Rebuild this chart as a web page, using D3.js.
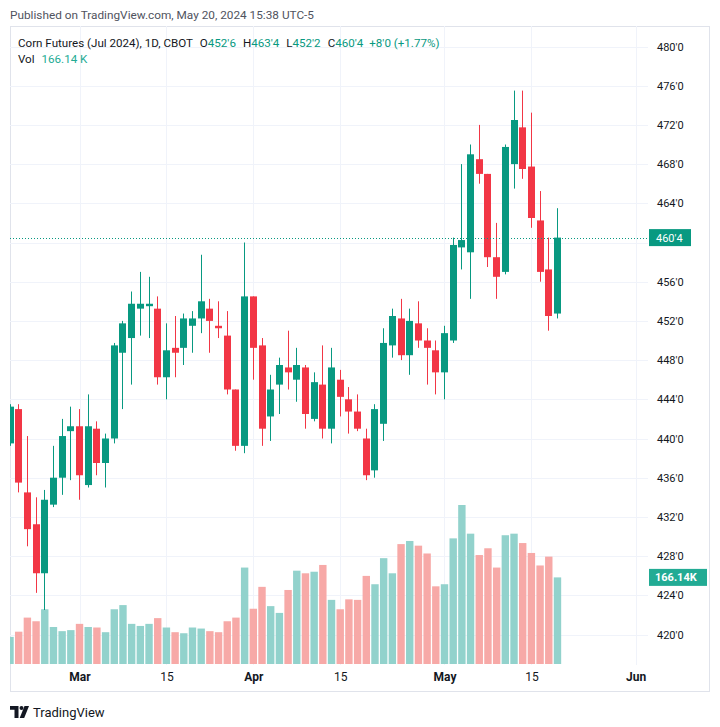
<!DOCTYPE html>
<html>
<head>
<meta charset="utf-8">
<script src="https://cdn.jsdelivr.net/npm/d3@7"></script>
<style>
  body { margin: 0; background: #fff; }
  svg { display: block; font-family: Roboto, "Noto Sans", sans-serif; }
</style>
</head>
<body>
<svg id="chart"></svg>
<script>
// daily sessions shown, Feb 20 -> May 20 2024
var dates = [
  "2024-02-20","2024-02-21","2024-02-22","2024-02-23","2024-02-26","2024-02-27","2024-02-28","2024-02-29",
  "2024-03-01","2024-03-04","2024-03-05","2024-03-06","2024-03-07","2024-03-08","2024-03-11","2024-03-12",
  "2024-03-13","2024-03-14","2024-03-15","2024-03-18","2024-03-19","2024-03-20","2024-03-21","2024-03-22",
  "2024-03-25","2024-03-26","2024-03-27","2024-03-28","2024-04-01","2024-04-02","2024-04-03","2024-04-04",
  "2024-04-05","2024-04-08","2024-04-09","2024-04-10","2024-04-11","2024-04-12","2024-04-15","2024-04-16",
  "2024-04-17","2024-04-18","2024-04-19","2024-04-22","2024-04-23","2024-04-24","2024-04-25","2024-04-26",
  "2024-04-29","2024-04-30","2024-05-01","2024-05-02","2024-05-03","2024-05-06","2024-05-07","2024-05-08",
  "2024-05-09","2024-05-10","2024-05-13","2024-05-14","2024-05-15","2024-05-16","2024-05-17","2024-05-20"
];
var open = [439.5,443,434.5,431.25,426.25,433.25,436,440.75, 441.25,435.25,441,437.5,440,448.75,450.25,453.25,
  453.5,453.25,446.25,449.25,449.25,451.5,452.25,453.25, 451.5,450.5,445,439.25,454.5,449.5,442.25,445.5,
  447.25,446,447.25,442,445.5,441,446,444, 442.75,440,436.75,441.5,449.5,452.25,448.5,451.75,
  450,449,446.75,450,459.5,459,468.5,467, 458.5,457,468,471.75,467.75,462.25,457.25,452.75];
var high = [443.5,443.5,440.25,434,434.75,439.25,442,443.25, 443,444.5,441.75,440.5,449.75,452,455,457,
  456.5,454.5,451.75,452.5,452.75,453,458.75,454.25, 454,453,445,460,454.5,450.25,446.5,448.25,
  451,449.25,447.5,446.75,449.5,449.25,447,445.25, 444.5,441,443.5,451.25,453.25,454.25,453.25,454,
  451.25,450,451.5,460.5,468,470,472,467, 462,470,475.5,475.5,473.25,465.25,460.5,463.5];
var low = [439.25,434.5,429,424.25,422.5,433,434.25,435.75, 433.75,435,436.25,435,439.5,443,445.5,450.5,
  450.25,445.5,444,446.25,447.5,448.75,450.75,448.75, 450.25,444.5,438.75,438.5,446,439.25,439.75,442.5,
  445,443.75,441,441.75,440,439.5,442.25,440.5, 440.75,435.75,436,439.75,448.25,448,446.5,449.25,
  445.5,444.5,444,449.75,457.25,454.25,466,457.5, 454.25,456.75,465.5,466.5,461.5,456,451,452.25];
var close = [443.25,435.5,430.75,426.25,433.75,436,440.25,441.25, 436.25,441.25,437.5,440,449.5,451.75,453.75,453.75,
  453.75,446.25,449,448.75,452.25,452.25,454,452, 451.25,445,439.25,454.5,449.25,441,445,447.5,
  446.75,447.5,442.5,445.75,441,447.25,444.25,442.75, 441,436.25,443,449.75,452.5,448.5,452,450,
  449.25,446.75,450.75,459.75,460.25,469,467,458.5, 456.5,469.75,472.5,467.5,462.5,457,452.5,460.5];
// volume, thousands of contracts
var volume = [52,62,89,82,105,71,63,65, 77,71,70,61,105,113,77,73,
  77,88,70,61,59,70,68,63, 61,82,89,185,106,148,111,98,
  142,179,174,177,190,123,105,124, 123,169,153,203,174,230,236,227,
  212,149,153,241,305,250,209,222, 185,247,250,232,213,189,206,166.14];

var priceTicks = d3.range(420, 481, 4);
var timeTickBars = [8, 18, 28, 38, 50, 60, 72];   // Jun 3 is 9 sessions past the last bar
var timeTickLabels = ["Mar", "15", "Apr", "15", "May", "15", "Jun"];
var timeTickMonth = [true, false, true, false, true, false, true];

var upColor = "#089981", downColor = "#f23645";
var upVol = "#92d2cc", downVol = "#f7a9a7";

var W = 720, H = 727;
var plot = { left: 10, right: 648, top: 26, bottom: 665 };

var svg = d3.select("#chart").attr("width", W).attr("height", H);

// eighths formatting used by grain futures: 452.75 -> 452'6
function fmt(p) {
  var n = Math.floor(p + 1e-9);
  var f = Math.round((p - n) * 8);
  if (f == 8) { n++; f = 0; }
  return n + "'" + f;
}

var x = d3.scaleLinear().domain([0, 72]).range([10, 10 + 72 * 8.69]);
var y = d3.scaleLinear().domain([420, 480]).range([634.5, 46.5]);
var yv = d3.scaleLinear().domain([0, d3.max(volume)]).range([664, 505]);

var bars = dates.map(function(d, i) {
  return { i: i, date: d, o: open[i], h: high[i], l: low[i], c: close[i], v: volume[i], up: close[i] >= open[i] };
});
var last = bars[bars.length - 1], prev = bars[bars.length - 2];

svg.append("defs").append("clipPath").attr("id", "plotclip")
  .append("rect")
    .attr("x", plot.left).attr("y", plot.top)
    .attr("width", plot.right - plot.left).attr("height", plot.bottom - plot.top);

// header
svg.append("text")
  .attr("x", 10).attr("y", 19)
  .attr("font-size", 11.8).attr("fill", "#50535e")
  .text("Published on TradingView.com, May 20, 2024 15:38 UTC-5");

// frame
svg.append("rect")
  .attr("x", 10.5).attr("y", 26.5).attr("width", 699).attr("height", 665)
  .attr("fill", "none").attr("stroke", "#e0e3eb");

// grid
var grid = svg.append("g").attr("class", "grid");
grid.selectAll("line.h")
  .data(priceTicks)
  .enter().append("line")
    .attr("class", "h")
    .attr("x1", plot.left).attr("x2", plot.right)
    .attr("y1", function(d) { return Math.round(y(d)) + 0.5; })
    .attr("y2", function(d) { return Math.round(y(d)) + 0.5; })
    .attr("stroke", "#f0f3fa");
grid.selectAll("line.v")
  .data(timeTickBars)
  .enter().append("line")
    .attr("class", "v")
    .attr("y1", plot.top).attr("y2", plot.bottom)
    .attr("x1", function(d) { return Math.round(x(d)) + 0.5; })
    .attr("x2", function(d) { return Math.round(x(d)) + 0.5; })
    .attr("stroke", "#f0f3fa");

var g = svg.append("g").attr("clip-path", "url(#plotclip)");

// volume
g.append("g").selectAll("rect")
  .data(bars)
  .enter().append("rect")
    .attr("x", function(d) { return x(d.i) - 3.7; })
    .attr("width", 7.4)
    .attr("y", function(d) { return yv(d.v); })
    .attr("height", function(d) { return yv(0) - yv(d.v); })
    .attr("fill", function(d) { return d.up ? upVol : downVol; });

// candles
var candle = g.append("g").selectAll("g")
  .data(bars)
  .enter().append("g");

candle.append("line")
  .attr("x1", function(d) { return Math.round(x(d.i) - 3.5) + 3.5; })
  .attr("x2", function(d) { return Math.round(x(d.i) - 3.5) + 3.5; })
  .attr("y1", function(d) { return y(d.h); })
  .attr("y2", function(d) { return y(d.l); })
  .attr("stroke", function(d) { return d.up ? upColor : downColor; })
  .attr("stroke-width", 1);

candle.append("rect")
  .attr("x", function(d) { return Math.round(x(d.i) - 3.5); })
  .attr("width", 7)
  .attr("y", function(d) { return y(Math.max(d.o, d.c)); })
  .attr("height", function(d) { return Math.max(1, Math.abs(y(d.o) - y(d.c))); })
  .attr("fill", function(d) { return d.up ? upColor : downColor; });

// last price line
svg.append("line")
  .attr("x1", plot.left).attr("x2", plot.right)
  .attr("y1", Math.round(y(last.c)) + 0.5).attr("y2", Math.round(y(last.c)) + 0.5)
  .attr("stroke", upColor).attr("stroke-dasharray", "1,2");

// price axis (the tick hidden under the last-price badge is dropped, as on the chart)
var yAxis = d3.axisRight(y)
  .tickValues(priceTicks.filter(function(t) { return Math.abs(y(t) - y(last.c)) > 10; }))
  .tickSize(0).tickPadding(0).tickFormat(fmt);
var ya = svg.append("g")
  .attr("transform", "translate(657,0)")
  .call(yAxis);
ya.select(".domain").remove();
ya.selectAll("text").attr("font-size", 11).attr("fill", "#131722").attr("font-family", "Roboto, sans-serif");

// time axis
var xAxis = d3.axisBottom(x).tickValues(timeTickBars).tickSize(0).tickPadding(0)
  .tickFormat(function(d, i) { return timeTickLabels[i]; });
var xa = svg.append("g")
  .attr("transform", "translate(0,672)")
  .call(xAxis);
xa.select(".domain").remove();
xa.selectAll("text")
  .attr("font-size", 12).attr("fill", "#131722").attr("font-family", "Roboto, sans-serif")
  .attr("font-weight", function(d, i) { return timeTickMonth[i] ? 700 : 400; });

// last price / volume badges
svg.append("rect")
  .attr("x", 649).attr("y", y(last.c) - 8.5).attr("width", 42).attr("height", 17)
  .attr("fill", upColor);
svg.append("text")
  .attr("x", 656).attr("y", y(last.c) + 4)
  .attr("font-size", 11).attr("fill", "#fff")
  .text(fmt(last.c));

svg.append("rect")
  .attr("x", 649).attr("y", yv(last.v) - 8.5).attr("width", 58).attr("height", 17)
  .attr("fill", "#22ab94");
svg.append("text")
  .attr("x", 655).attr("y", yv(last.v) + 4)
  .attr("font-size", 11).attr("font-weight", 700).attr("fill", "#fff")
  .text(d3.format(".2f")(last.v) + "K");

// legend
var chg = last.c - prev.c;
var legend = svg.append("text")
  .attr("x", 18).attr("y", 47)
  .attr("font-size", 11.6).attr("fill", "#131722");
legend.append("tspan").text("Corn Futures (Jul 2024), 1D, CBOT");
[["O", last.o], ["H", last.h], ["L", last.l], ["C", last.c]].forEach(function(p) {
  legend.append("tspan").attr("dx", 7).text(p[0]);
  legend.append("tspan").attr("fill", upColor).text(fmt(p[1]));
});
legend.append("tspan").attr("dx", 6).attr("fill", upColor)
  .text((chg >= 0 ? "+" : "") + fmt(chg) + " (" + (chg >= 0 ? "+" : "") + d3.format(".2f")(chg / prev.c * 100) + "%)");

var vol = svg.append("text")
  .attr("x", 18).attr("y", 63)
  .attr("font-size", 11.6).attr("fill", "#131722");
vol.append("tspan").text("Vol");
vol.append("tspan").attr("dx", 7).attr("fill", "#22ab94").text(d3.format(".2f")(last.v) + " K");

// footer logo
var logo = svg.append("g").attr("fill", "#131722");
logo.append("path").attr("d", "M10,706 H18.5 V718 H14.5 V709.8 H10 Z");
logo.append("circle").attr("cx", 21.5).attr("cy", 708).attr("r", 2);
logo.append("path").attr("d", "M24.5,706 H29 L24.2,718 H19.7 Z");
svg.append("text")
  .attr("x", 33).attr("y", 717)
  .attr("font-size", 13).attr("fill", "#131722")
  .text("TradingView");
</script>
</body>
</html>
